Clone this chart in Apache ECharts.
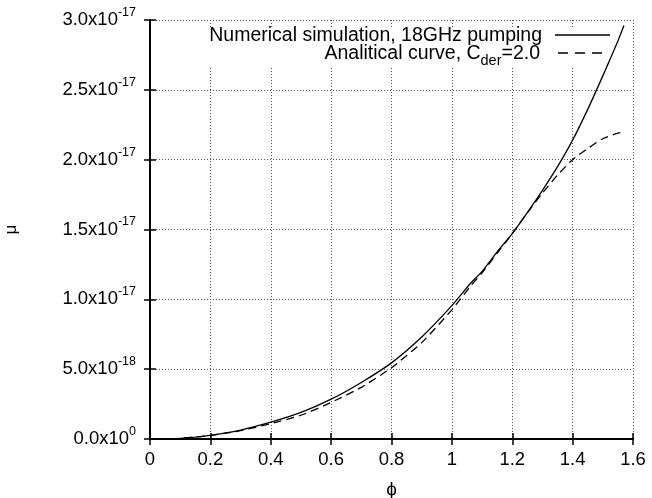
<!DOCTYPE html>
<html>
<head>
<meta charset="utf-8">
<script src="https://cdn.jsdelivr.net/npm/echarts@6/dist/echarts.min.js"></script>
<style>
  html, body { margin: 0; padding: 0; background: #fff; }
  #chart { width: 652px; height: 498px; }
</style>
</head>
<body>
<div id="chart"></div>
<script>
// mu values are in units of 1e-17
var phiSim = [0.07, 0.1, 0.15, 0.2, 0.3, 0.4, 0.5, 0.6, 0.7, 0.8, 0.9, 1.0, 1.06, 1.1, 1.15, 1.2, 1.25, 1.3, 1.35, 1.4, 1.45, 1.5, 1.55, 1.57];
var muSim  = [0, 0.005, 0.014, 0.026, 0.064, 0.12, 0.19, 0.285, 0.405, 0.545, 0.73, 0.955, 1.11, 1.2, 1.34, 1.47, 1.62, 1.78, 1.95, 2.14, 2.36, 2.6, 2.85, 2.96];

var phiAna = [0.07, 0.1, 0.2, 0.3, 0.4, 0.5, 0.6, 0.7, 0.8, 0.9, 1.0, 1.06, 1.1, 1.15, 1.2, 1.25, 1.3, 1.35, 1.4, 1.45, 1.5, 1.55, 1.57];
var muAna  = [0, 0.005, 0.025, 0.06, 0.11, 0.17, 0.262, 0.37, 0.51, 0.69, 0.925, 1.09, 1.19, 1.33, 1.47, 1.62, 1.76, 1.89, 2.0, 2.08, 2.15, 2.19, 2.2];

var xTicks = [0, 0.2, 0.4, 0.6, 0.8, 1, 1.2, 1.4, 1.6];
var yTicks = [0, 0.5, 1.0, 1.5, 2.0, 2.5, 3.0];

var legendNames = ['Numerical simulation, 18GHz pumping', 'Analitical curve, C{sub|der}=2.0'];

function pairs(xs, ys) {
    var out = [];
    for (var i = 0; i < xs.length; i++) out.push([xs[i], ys[i]]);
    return out;
}

function yLabel(v) {
    var n = Math.round(v * 10) / 10;
    if (n === 0) return '{m|0.0x10}{s|0}';
    if (n < 1) return '{m|' + (n * 10).toFixed(1) + 'x10}{s|-18}';
    return '{m|' + n.toFixed(1) + 'x10}{s|-17}';
}

var font = 'Liberation Sans, Arial, Helvetica, sans-serif';
var myChart = echarts.init(document.getElementById('chart'));

var gridLine = { show: true, lineStyle: { color: '#555', width: 1, type: [1, 2] } };
var frameLine = { show: true, lineStyle: { color: '#000', width: 2 } };
var tickIn = { show: true, inside: true, length: 6, lineStyle: { color: '#000', width: 1.5 } };

var option = {
    backgroundColor: '#fff',
    animation: false,
    grid: { left: 150, right: 19, top: 20, bottom: 59, containLabel: false, outerBoundsMode: 'none' },
    xAxis: [
        {
            type: 'value', min: xTicks[0], max: xTicks[xTicks.length - 1], interval: 0.2,
            name: 'ϕ', nameLocation: 'middle', nameGap: 41,
            nameTextStyle: { fontFamily: font, fontSize: 19, color: '#000' },
            axisLine: frameLine, axisTick: tickIn, splitLine: gridLine,
            axisLabel: { margin: 11, fontFamily: font, fontSize: 18.5, color: '#000' }
        },
        {
            type: 'value', position: 'top', min: xTicks[0], max: xTicks[xTicks.length - 1], interval: 0.2,
            axisLine: frameLine, axisTick: tickIn, splitLine: { show: false }, axisLabel: { show: false }
        }
    ],
    yAxis: [
        {
            type: 'value', min: yTicks[0], max: yTicks[yTicks.length - 1], interval: 0.5,
            name: 'μ', nameLocation: 'middle', nameGap: 130,
            nameTextStyle: { fontFamily: font, fontSize: 17, color: '#000' },
            axisLine: frameLine, axisTick: tickIn, splitLine: gridLine,
            axisLabel: {
                margin: 14, formatter: yLabel,
                rich: {
                    m: { fontFamily: font, fontSize: 18.5, color: '#000' },
                    s: { fontFamily: font, fontSize: 12.5, color: '#000', padding: [0, 0, 15, 0] }
                }
            }
        },
        {
            type: 'value', position: 'right', min: yTicks[0], max: yTicks[yTicks.length - 1], interval: 0.5,
            axisLine: frameLine, axisTick: tickIn, splitLine: { show: false }, axisLabel: { show: false }
        }
    ],
    graphic: [
        // key box hides the vertical grid lines behind it
        { type: 'rect', z: 1, shape: { x: 151, y: 27, width: 481, height: 40 }, style: { fill: '#fff' } },
        {
            type: 'text', z: 10, x: 542, y: 36,
            style: { text: legendNames[0], align: 'right', verticalAlign: 'middle', fontFamily: font, fontSize: 19.5, fill: '#000' }
        },
        {
            type: 'text', z: 10, x: 540, y: 54,
            style: {
                text: legendNames[1], align: 'right', verticalAlign: 'middle', fill: '#000',
                fontFamily: font, fontSize: 19.5,
                rich: { sub: { fontFamily: font, fontSize: 14.5, fill: '#000', padding: [14, 0, 0, 0] } }
            }
        },
        { type: 'line', z: 10, shape: { x1: 555, y1: 35, x2: 610, y2: 35 }, style: { stroke: '#000', lineWidth: 1.3 } },
        { type: 'line', z: 10, shape: { x1: 558, y1: 53, x2: 603, y2: 53 }, style: { stroke: '#000', lineWidth: 1.3, lineDash: [10, 7] } }
    ],
    series: [
        {
            name: 'sim', type: 'line', z: 5, data: pairs(phiSim, muSim),
            showSymbol: false, smooth: 0.2,
            lineStyle: { color: '#000', width: 1.3, type: 'solid' }
        },
        {
            name: 'ana', type: 'line', z: 5, data: pairs(phiAna, muAna),
            showSymbol: false, smooth: 0.2,
            lineStyle: { color: '#000', width: 1.3, type: [8, 5] }
        }
    ]
};

myChart.setOption(option);
</script>
</body>
</html>
